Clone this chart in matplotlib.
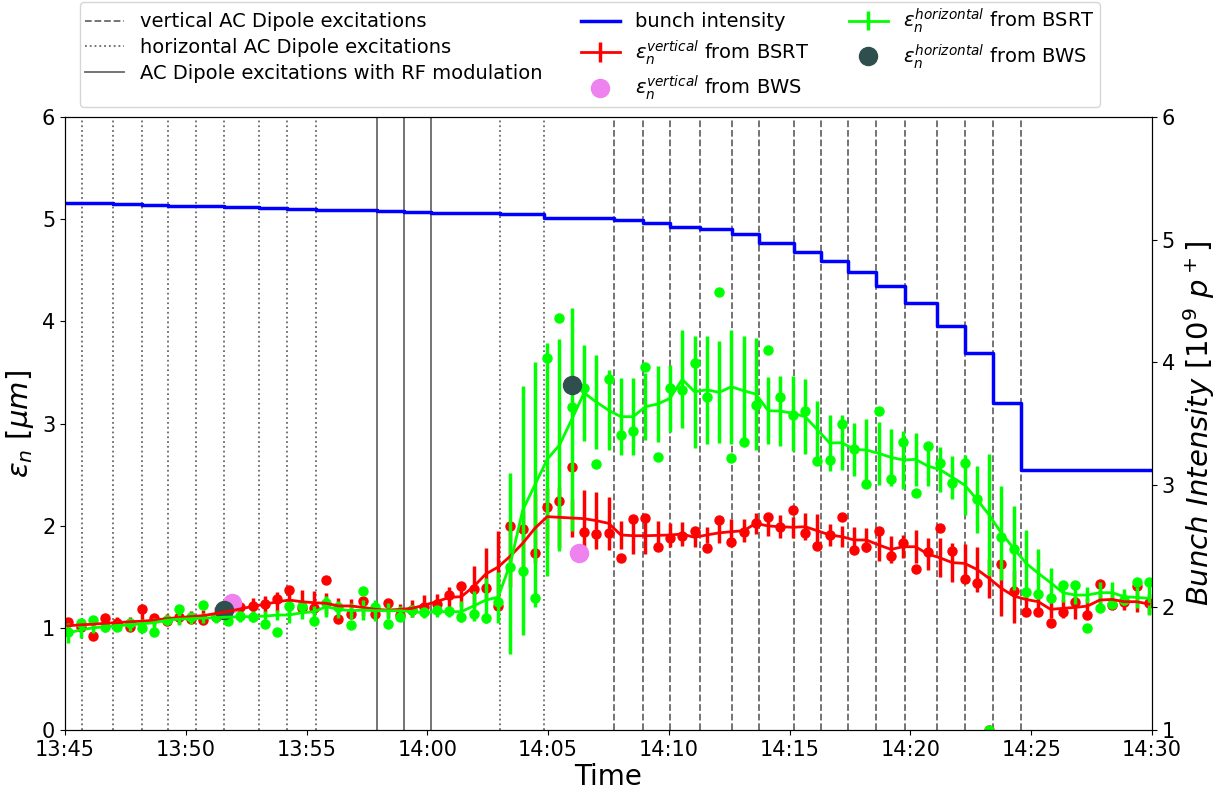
"""Emittance growth during AC dipole excitations vs bunch intensity."""

import datetime as dt

import matplotlib
matplotlib.use("Agg")
import matplotlib.pyplot as plt
import matplotlib.dates as mdates
import numpy as np

T0 = dt.datetime(2018, 1, 1, 13, 45)


def at(minutes):
    return [T0 + dt.timedelta(minutes=float(m)) for m in minutes]


# ---------------- data (minutes after 13:45) ----------------
sample_min = np.linspace(0.14, 44.87, 89)

# vertical emittance from BSRT: raw, smoothed, error
v_raw = [1.054, 1.011, 0.923, 1.093, 1.044, 1.005, 1.181, 1.093, 1.067, 1.109,
         1.083, 1.077, 1.109, 1.223, 1.200, 1.214, 1.233, 1.279, 1.370, 1.191,
         1.191, 1.468, 1.086, 1.132, 1.263, 1.132, 1.240, 1.126, 1.174, 1.200,
         1.233, 1.321, 1.413, 1.380, 1.393, 1.214, 1.997, 1.964, 1.729, 2.186,
         2.245, 2.571, 1.941, 1.915, 1.925, 1.687, 2.062, 2.072, 1.788, 1.876,
         1.899, 1.951, 1.778, 2.055, 1.843, 1.935, 2.023, 2.088, 1.990, 2.153,
         1.931, 1.804, 1.909, 2.082, 1.762, 1.788, 1.951, 1.703, 1.827, 1.579,
         1.739, 1.974, 1.755, 1.475, 1.442, 0.000, 1.625, 1.364, 1.158, 1.158,
         1.051, 1.152, 1.256, 1.125, 1.429, 1.223, 1.249, 1.410, 1.239]
v_avg = [1.020, 1.030, 1.035, 1.045, 1.050, 1.060, 1.065, 1.075, 1.090, 1.100,
         1.110, 1.120, 1.140, 1.160, 1.185, 1.210, 1.230, 1.255, 1.272, 1.256,
         1.246, 1.240, 1.214, 1.214, 1.200, 1.181, 1.174, 1.181, 1.191, 1.223,
         1.256, 1.298, 1.305, 1.403, 1.527, 1.595, 1.703, 1.827, 1.975, 2.088,
         2.082, 2.075, 2.069, 2.049, 2.023, 1.909, 1.902, 1.902, 1.905, 1.909,
         1.918, 1.886, 1.909, 1.930, 1.941, 1.951, 2.023, 1.997, 1.990, 1.984,
         1.990, 1.951, 1.909, 1.892, 1.860, 1.860, 1.811, 1.768, 1.794, 1.794,
         1.722, 1.685, 1.638, 1.631, 1.572, 1.484, 1.386, 1.311, 1.278, 1.256,
         1.181, 1.191, 1.200, 1.213, 1.272, 1.278, 1.256, 1.256, 1.233]
v_err = [0.06, 0.05, 0.05, 0.05, 0.06, 0.05, 0.08, 0.06, 0.05, 0.06,
         0.05, 0.05, 0.06, 0.06, 0.05, 0.08, 0.08, 0.10, 0.12, 0.11,
         0.11, 0.10, 0.08, 0.07, 0.08, 0.06, 0.07, 0.05, 0.08, 0.10,
         0.08, 0.10, 0.10, 0.20, 0.25, 0.35, 0.30, 0.32, 0.34, 0.28,
         0.30, 0.19, 0.28, 0.28, 0.26, 0.14, 0.18, 0.18, 0.14, 0.12,
         0.12, 0.09, 0.08, 0.10, 0.12, 0.11, 0.10, 0.10, 0.11, 0.10,
         0.13, 0.16, 0.11, 0.10, 0.13, 0.12, 0.16, 0.13, 0.11, 0.16,
         0.16, 0.19, 0.19, 0.19, 0.22, 0.19, 0.27, 0.26, 0.10, 0.10,
         0.08, 0.09, 0.11, 0.08, 0.10, 0.06, 0.08, 0.10, 0.10]

# horizontal emittance from BSRT: raw, smoothed, error
h_raw = [0.962, 1.044, 1.077, 1.011, 1.011, 1.050, 0.995, 0.956, 1.077, 1.181,
         1.109, 1.223, 1.109, 1.070, 1.120, 1.109, 1.037, 0.956, 1.214, 1.214,
         1.067, 1.246, 1.207, 1.028, 1.364, 1.200, 1.034, 1.109, 1.174, 1.158,
         1.174, 1.168, 1.103, 1.135, 1.093, 1.256, 1.592, 1.556, 1.289, 3.638,
         4.029, 3.165, 3.351, 2.604, 3.432, 2.887, 2.930, 3.556, 2.675, 3.344,
         3.328, 3.595, 3.256, 4.290, 2.659, 2.822, 3.181, 3.719, 3.256, 3.083,
         3.125, 2.633, 2.643, 2.995, 2.750, 2.404, 3.118, 2.453, 2.822, 2.317,
         2.783, 2.616, 2.421, 2.616, 2.257, 0.000, 1.892, 1.768, 1.354, 1.328,
         1.289, 1.419, 1.419, 0.995, 1.191, 1.233, 1.272, 1.451, 1.451]
h_avg = [0.950, 0.980, 1.000, 1.010, 1.020, 1.030, 1.040, 1.050, 1.075, 1.085,
         1.090, 1.095, 1.100, 1.105, 1.108, 1.110, 1.115, 1.125, 1.126, 1.148,
         1.158, 1.207, 1.181, 1.168, 1.174, 1.168, 1.168, 1.168, 1.158, 1.148,
         1.158, 1.158, 1.158, 1.214, 1.272, 1.300, 1.630, 2.150, 2.400, 2.650,
         2.790, 3.040, 3.300, 3.210, 3.130, 3.067, 3.067, 3.165, 3.191, 3.247,
         3.432, 3.311, 3.330, 3.305, 3.360, 3.321, 3.288, 3.125, 3.122, 3.100,
         3.067, 2.940, 2.810, 2.812, 2.747, 2.740, 2.708, 2.669, 2.643, 2.649,
         2.584, 2.548, 2.473, 2.398, 2.257, 2.104, 1.925, 1.778, 1.632, 1.534,
         1.442, 1.344, 1.321, 1.321, 1.344, 1.344, 1.305, 1.298, 1.289]
h_err = [0.10, 0.08, 0.05, 0.05, 0.05, 0.06, 0.05, 0.05, 0.05, 0.06,
         0.05, 0.05, 0.05, 0.05, 0.05, 0.05, 0.05, 0.05, 0.08, 0.06,
         0.06, 0.10, 0.08, 0.08, 0.10, 0.10, 0.08, 0.05, 0.05, 0.05,
         0.05, 0.05, 0.10, 0.15, 0.22, 0.25, 0.89, 1.22, 1.20, 1.14,
         1.04, 1.09, 0.47, 0.46, 0.39, 0.38, 0.38, 0.33, 0.37, 0.33,
         0.48, 0.55, 0.53, 0.50, 0.56, 0.54, 0.55, 0.33, 0.34, 0.37,
         0.37, 0.28, 0.27, 0.27, 0.26, 0.30, 0.31, 0.28, 0.28, 0.26,
         0.20, 0.22, 0.21, 0.29, 0.33, 0.60, 0.46, 0.41, 0.33, 0.24,
         0.14, 0.09, 0.09, 0.08, 0.10, 0.10, 0.08, 0.10, 0.16]

# wire scanner measurements
bws_v_min = [6.91, 21.30]
bws_v = [1.24, 1.73]
bws_h_min = [6.58, 20.99]
bws_h = [1.17, 3.38]

# AC dipole kicks
kick_h_min = [0.69, 1.97, 3.17, 4.26, 5.42, 6.58, 8.03, 9.18, 10.39, 18.0, 19.83]
kick_rf_min = [12.9, 14.03, 15.14]
kick_v_min = [22.74, 23.91, 25.06, 26.30, 27.60, 28.72, 30.18, 31.28, 32.42,
              33.58, 34.79, 36.08, 37.27, 38.41, 39.56]

# bunch intensity [1e9 p+], level held from each time on
ib_min = [0, 0.69, 1.97, 3.17, 4.26, 5.42, 6.58, 8.03, 9.18, 10.39, 12.9,
          14.03, 15.14, 18.0, 19.83, 22.74, 23.91, 25.06, 26.30, 27.60, 28.72,
          30.18, 31.28, 32.42, 33.58, 34.79, 36.08, 37.27, 38.41, 39.56, 45]
ib_val = [5.300, 5.295, 5.290, 5.280, 5.278, 5.274, 5.266, 5.258, 5.250, 5.240,
          5.233, 5.225, 5.217, 5.205, 5.180, 5.157, 5.135, 5.105, 5.086, 5.045,
          4.975, 4.900, 4.825, 4.735, 4.620, 4.480, 4.295, 4.075, 3.667, 3.120,
          3.120]

# ---------------- plot ----------------
fig = plt.figure(figsize=(12.31, 7.94), dpi=100)
ax = fig.add_axes([0.0528, 0.0806, 0.883, 0.772])
ax2 = ax.twinx()

GRAY = "dimgray"
for i, m in enumerate(kick_v_min):
    ax.axvline(at([m])[0], color=GRAY, ls="--", lw=1.3,
               label="vertical AC Dipole excitations" if i == 0 else None)
for i, m in enumerate(kick_h_min):
    ax.axvline(at([m])[0], color=GRAY, ls=":", lw=1.3,
               label="horizontal AC Dipole excitations" if i == 0 else None)
for i, m in enumerate(kick_rf_min):
    ax.axvline(at([m])[0], color=GRAY, ls="-", lw=1.3,
               label="AC Dipole excitations with RF modulation" if i == 0 else None)

ts = at(sample_min)
ax.errorbar(ts, v_avg, yerr=v_err, color="red", lw=2, elinewidth=2.5,
            label=r"$\epsilon_n^{vertical}$ from BSRT")
ax.plot(ts, v_raw, "o", color="red", ms=6.5)
ax.errorbar(ts, h_avg, yerr=h_err, color="lime", lw=2, elinewidth=2.5,
            label=r"$\epsilon_n^{horizontal}$ from BSRT")
ax.plot(ts, h_raw, "o", color="lime", ms=6.5)
ax.plot(at(bws_v_min), bws_v, "o", color="violet", ms=13,
        label=r"$\epsilon_n^{vertical}$ from BWS")
ax.plot(at(bws_h_min), bws_h, "o", color="darkslategray", ms=13,
        label=r"$\epsilon_n^{horizontal}$ from BWS")

ax2.step(at(ib_min), ib_val, where="post", color="blue", lw=2.5,
         label="bunch intensity")

ax.set_xlim(T0, T0 + dt.timedelta(minutes=45))
ax.set_ylim(0, 6)
ax2.set_ylim(1, 6)
ax.xaxis.set_major_locator(mdates.MinuteLocator(byminute=range(0, 60, 5)))
ax.xaxis.set_major_formatter(mdates.DateFormatter("%H:%M"))
ax.tick_params(labelsize=15)
ax2.tick_params(labelsize=15)
ax.set_xlabel("Time", fontsize=20, labelpad=2)
ax.set_ylabel(r"$\epsilon_n\ [\mu m]$", fontsize=21)
ax2.set_ylabel(r"$Bunch\ Intensity\ [10^9\ p^+]$", fontsize=21)

h1, l1 = ax.get_legend_handles_labels()
h2, l2 = ax2.get_legend_handles_labels()
hd = dict(zip(l1 + l2, h1 + h2))
order = ["vertical AC Dipole excitations", "horizontal AC Dipole excitations",
         "AC Dipole excitations with RF modulation", "bunch intensity",
         r"$\epsilon_n^{vertical}$ from BSRT", r"$\epsilon_n^{vertical}$ from BWS",
         r"$\epsilon_n^{horizontal}$ from BSRT", r"$\epsilon_n^{horizontal}$ from BWS"]
ax2.legend([hd[k] for k in order], order, ncol=3, fontsize=14,
           loc="lower center", bbox_to_anchor=(0.483, 1.016),
           borderaxespad=0, borderpad=0.25, handlelength=2.0,
           columnspacing=2.0, labelspacing=0.35)

fig.savefig("out.png", dpi=100)
